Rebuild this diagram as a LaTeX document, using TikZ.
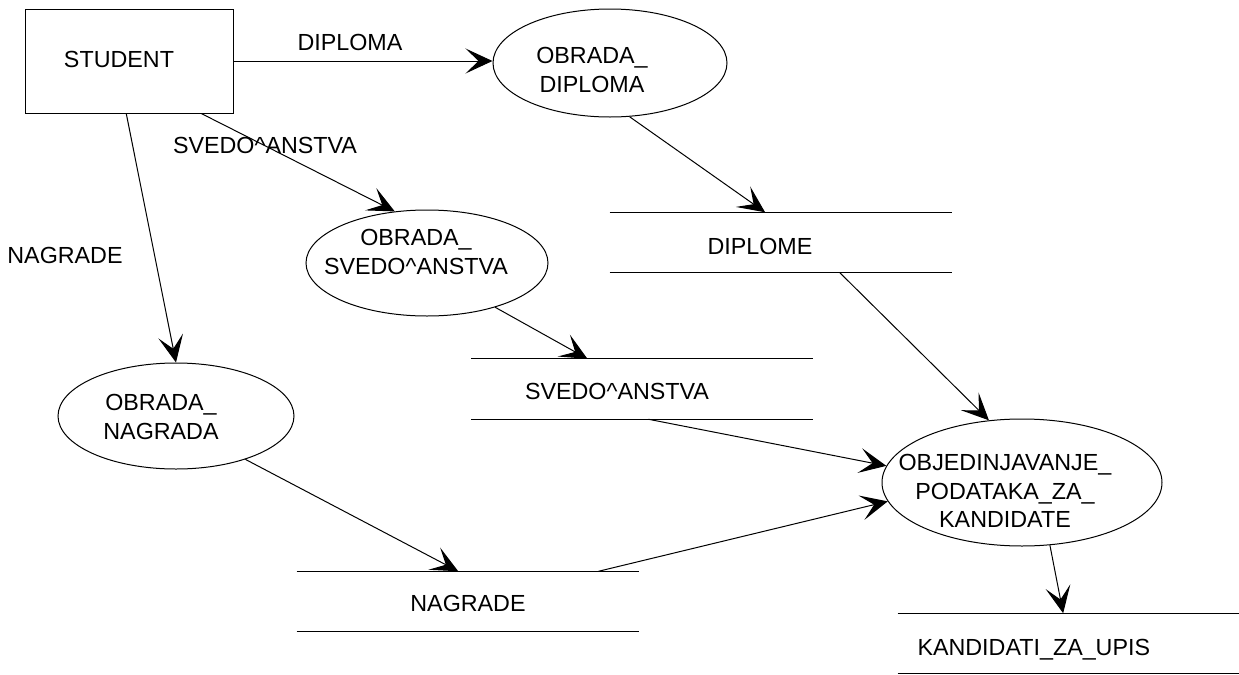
\documentclass[tikz,border=0pt]{standalone}
\usepackage{fontspec}
\setmainfont{Liberation Sans}
\usetikzlibrary{shapes.geometric,arrows.meta}
\newcommand{\dfdfont}{\fontsize{11.65pt}{14.25pt}\selectfont}

\begin{document}
\begin{tikzpicture}[x=0.5pt, y=-0.5pt, line width=0.5pt,
        entitet/.style={draw, rectangle, inner sep=0pt, minimum width=104pt, minimum height=52pt},
        proces/.style={draw, ellipse, inner sep=0pt},
        skladiste/.style={rectangle, inner sep=0pt, minimum width=170.5pt, minimum height=29.75pt},
        tekst/.style={inner sep=0pt, align=center, font=\dfdfont},
        tok/.style={-{Stealth[length=13.5pt, width=12.5pt, inset=6.5pt]}}]
            \useasboundingbox (0,0) rectangle (1239,675);
            \node[entitet]                                          (student)   at ( 129.0,  61.0) {};
            \node[proces, minimum width=117pt, minimum height=54pt]   (obdiploma) at ( 610.0,  63.0) {};
            \node[proces, minimum width=121pt, minimum height=53pt]   (obsvedo)   at ( 427.0, 263.0) {};
            \node[proces, minimum width=118pt, minimum height=53pt]   (obnagrada) at ( 176.0, 416.0) {};
            \node[proces, minimum width=140pt, minimum height=63.5pt] (objedinj)  at (1022.0, 482.5) {};
            \node[skladiste]                                        (diplome)   at ( 780.5, 242.5) {};
            \node[skladiste]                                        (svedost)   at ( 642.0, 389.0) {};
            \node[skladiste]                                        (nagrade)   at ( 467.5, 601.5) {};
            \node[skladiste]                                        (kandidati) at (1068.5, 643.5) {};
            \draw (diplome.north west)   -- (diplome.north east)   (diplome.south west)   -- (diplome.south east);
            \draw (svedost.north west)   -- (svedost.north east)   (svedost.south west)   -- (svedost.south east);
            \draw (nagrade.north west)   -- (nagrade.north east)   (nagrade.south west)   -- (nagrade.south east);
            \draw (kandidati.north west) -- (kandidati.north east) (kandidati.south west) -- (kandidati.south east);
            \node[tekst]                          (tstudent)   at ( 119,  59) {STUDENT};
            \node[tekst]                          (tdiploma)   at ( 350,  42) {DIPLOMA};
            \node[tekst]                          (tsvedo)     at ( 265, 145) {SVEDO\textasciicircum ANSTVA};
            \node[tekst]                          (tnagrade)   at (  65, 255) {NAGRADE};
            \node[tekst]                          (tobdiploma) at ( 592,  70) {OBRADA\_\\DIPLOMA};
            \node[tekst]                          (tobsvedo)   at ( 416, 252) {OBRADA\_\\SVEDO\textasciicircum ANSTVA};
            \node[tekst]                          (tobnagrada) at ( 161, 417) {OBRADA\_\\NAGRADA};
            \node[tekst]                          (tobjedinj)  at (1005, 491) {OBJEDINJAVANJE\_\\PODATAKA\_ZA\_\\KANDIDATE};
            \node[tekst]                          (tdiplome)   at ( 760, 246) {DIPLOME};
            \node[tekst]                          (tsvedost)   at ( 617, 391) {SVEDO\textasciicircum ANSTVA};
            \node[tekst]                          (tnagradest) at ( 468, 603) {NAGRADE};
            \node[tekst, anchor=west, text depth=0pt] (tkandidati) at ( 917, 647) {KANDIDATI\_ZA\_UPIS};
            \draw[tok] (student.east)      -- (student.east -| obdiploma.west);
            \draw[tok] (student.-36.6)     -- (obsvedo.122.7);
            \draw[tok] (student.-93.3)     -- (obnagrada.north);
            \draw[tok] (obdiploma.-70.3)   -- (diplome.117.7);
            \draw[tok] (obsvedo.-33.7)     -- (svedost.151.4);
            \draw[tok] (obnagrada.-32.2)   -- (nagrade.107.8);
            \draw[tok] (diplome.-27.2)     -- (objedinj.118.7);
            \draw[tok] (svedost.-78.7)     -- (objedinj.173.4);
            \draw[tok] (nagrade.13.8)      -- (objedinj.188.4);
            \draw[tok] (objedinj.-66.4)    -- (kandidati.100.2);
            \end{tikzpicture}
\end{document}
